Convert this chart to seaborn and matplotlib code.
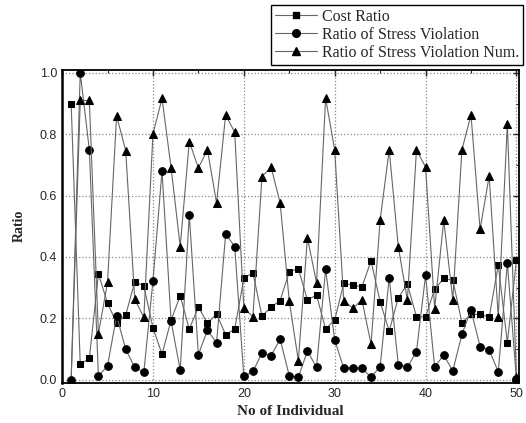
import matplotlib
matplotlib.use("Agg")
import matplotlib.pyplot as plt
import seaborn as sns
import pandas as pd
from matplotlib.ticker import MultipleLocator
from matplotlib.lines import Line2D

individual = list(range(1, 51))
cost_ratio = [0.90, 0.05, 0.07, 0.345, 0.25, 0.185, 0.21, 0.32, 0.305, 0.17,
              0.083, 0.195, 0.273, 0.165, 0.237, 0.184, 0.214, 0.147, 0.165, 0.33,
              0.349, 0.207, 0.237, 0.258, 0.352, 0.362, 0.26, 0.276, 0.166, 0.195,
              0.314, 0.308, 0.303, 0.387, 0.254, 0.159, 0.267, 0.312, 0.205, 0.205,
              0.295, 0.33, 0.324, 0.186, 0.213, 0.213, 0.204, 0.374, 0.121, 0.39]
stress_violation = [0.0, 1.0, 0.75, 0.012, 0.045, 0.208, 0.10, 0.04, 0.025, 0.322,
                    0.68, 0.19, 0.032, 0.537, 0.082, 0.162, 0.12, 0.475, 0.434, 0.011,
                    0.027, 0.087, 0.079, 0.132, 0.013, 0.008, 0.094, 0.04, 0.36, 0.129,
                    0.038, 0.038, 0.038, 0.008, 0.043, 0.332, 0.049, 0.04, 0.092, 0.34,
                    0.042, 0.08, 0.029, 0.148, 0.227, 0.108, 0.097, 0.026, 0.38, 0.002]
stress_violation_num = [0.0, 0.91, 0.91, 0.15, 0.317, 0.86, 0.747, 0.262, 0.203, 0.80,
                        0.917, 0.69, 0.434, 0.776, 0.69, 0.749, 0.576, 0.863, 0.806, 0.234,
                        0.205, 0.662, 0.693, 0.576, 0.257, 0.062, 0.463, 0.316, 0.918, 0.749,
                        0.257, 0.233, 0.26, 0.116, 0.52, 0.749, 0.433, 0.26, 0.749, 0.693,
                        0.232, 0.52, 0.26, 0.749, 0.863, 0.49, 0.664, 0.205, 0.834, 0.008]
series_names = ["Cost Ratio", "Ratio of Stress Violation", "Ratio of Stress Violation Num."]
markers = ["s", "o", "^"]

sns.set_style("white")
plt.rcParams['font.family'] = ['Liberation Sans', 'DejaVu Sans']

fig = plt.figure(figsize=(5.26, 4.23), dpi=100)
ax = fig.add_axes([0.118, 0.095, 0.869, 0.74])

df = pd.DataFrame({"x": individual, "Cost Ratio": cost_ratio,
                   "Ratio of Stress Violation": stress_violation,
                   "Ratio of Stress Violation Num.": stress_violation_num})

line_color = "#666666"
for name, mk in zip(series_names, markers):
    sns.lineplot(data=df, x="x", y=name, ax=ax, color=line_color, lw=0.8,
                 marker=mk, markersize=5.5 if mk != "s" else 5,
                 markerfacecolor="black", markeredgecolor="black", legend=False)

ax.set_xlim(0, 50.3)
ax.set_ylim(-0.01, 1.01)
ax.xaxis.set_major_locator(MultipleLocator(10))
ax.xaxis.set_minor_locator(MultipleLocator(5))
ax.yaxis.set_major_locator(MultipleLocator(0.2))
ax.yaxis.set_minor_locator(MultipleLocator(0.1))
ax.set_yticklabels([f"{v:.1f}" for v in ax.get_yticks()])
ax.grid(True, which="major", linestyle=":", color="#888888", lw=0.9)
ax.tick_params(which="both", direction="in", top=True, right=True, labelsize=9)
ax.tick_params(which="major", length=4, width=1)
ax.tick_params(which="minor", length=2.5, width=0.8)
for side, s in ax.spines.items():
    s.set_color("black")
    s.set_linewidth(1.3)
ax.spines["left"].set_linewidth(1.8)

ax.set_xlabel("No of Individual", fontfamily="Liberation Serif", fontweight="bold", fontsize=11, labelpad=4)
ax.set_ylabel("Ratio", fontfamily="Liberation Serif", fontweight="bold", fontsize=10, labelpad=10)

handles = [Line2D([], [], color=line_color, lw=0.8, marker=mk, markersize=5.5 if mk != "s" else 5,
                  markerfacecolor="black", markeredgecolor="black") for mk in markers]
leg = fig.legend(handles, series_names, loc="upper right", bbox_to_anchor=(0.994, 0.988),
                 prop={"family": "Liberation Serif", "size": 11.5}, frameon=True, fancybox=False,
                 edgecolor="black", framealpha=1, borderpad=0.25, labelspacing=0.12,
                 handlelength=2.6, handletextpad=0.3, borderaxespad=0)
leg.get_frame().set_linewidth(1.0)

fig.savefig("out.png", dpi=100)
